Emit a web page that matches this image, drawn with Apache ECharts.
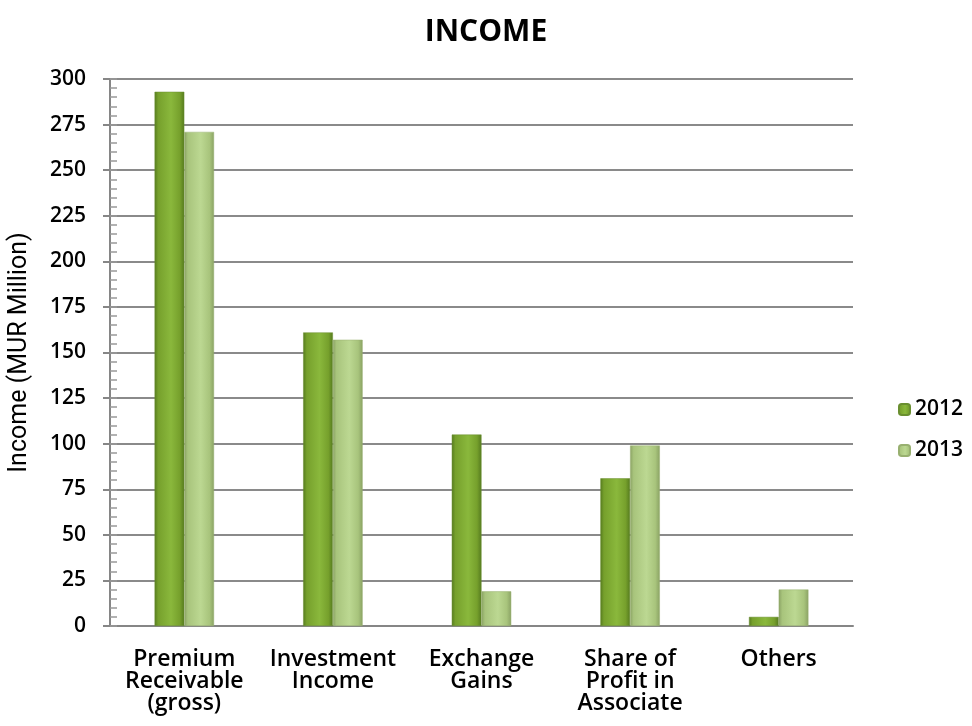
<!DOCTYPE html>
<html><head><meta charset="utf-8">
<script src="https://cdn.jsdelivr.net/npm/echarts@6/dist/echarts.min.js"></script>
<style>html,body{margin:0;padding:0;background:#fff}#c{width:972px;height:726px}</style>
</head><body><div id="c"></div>
<script>
const categories = ['Premium\nReceivable\n(gross)', 'Investment\nIncome', 'Exchange\nGains', 'Share of\nProfit in\nAssociate', 'Others'];
const series2012 = [293, 161, 105, 81, 5];
const series2013 = [271, 157, 19, 99, 20];
const seriesNames = ['2012', '2013'];
const yTicks = [0, 25, 50, 75, 100, 125, 150, 175, 200, 225, 250, 275, 300];

const FONT = '"Open Sans", "DejaVu Sans", sans-serif';
function grad(edge, mid, light){
  return new echarts.graphic.LinearGradient(0,0,1,0,[
    {offset:0,color:edge},{offset:0.12,color:mid},{offset:0.55,color:light},{offset:0.85,color:mid},{offset:1,color:edge}
  ]);
}
const chart = echarts.init(document.getElementById('c'), null, {renderer:'canvas'});
chart.setOption({
  animation:false,
  backgroundColor:'#fff',
  title:{text:'INCOME',left:'center',top:12,textStyle:{fontFamily:FONT,fontWeight:700,fontSize:30,color:'#000'}},
  legend:{orient:'vertical',left:893,top:394,itemWidth:11,itemHeight:11,itemGap:20,
    textStyle:{fontFamily:FONT,fontWeight:600,fontSize:21,color:'#000'},
    data:seriesNames},
  grid:{left:110,right:119,top:79,bottom:100,containLabel:false,outerBoundsMode:'none'},
  xAxis:{type:'category',data:categories,
    axisLine:{lineStyle:{color:'#868686',width:2}},axisTick:{show:false},
    axisLabel:{fontFamily:FONT,fontWeight:600,fontSize:23,color:'#000',lineHeight:22,margin:22,interval:0}},
  yAxis:[{type:'value',min:yTicks[0],max:yTicks[yTicks.length-1],interval:25,
    name:'Income (MUR Million)',nameLocation:'middle',nameGap:78,
    nameTextStyle:{fontFamily:'Roboto, sans-serif',fontSize:25,color:'#000'},
    axisLine:{show:true,lineStyle:{color:'#868686',width:2}},
    axisTick:{show:true,length:7,lineStyle:{color:'#868686',width:2}},
    splitLine:{lineStyle:{color:'#8a8a8a',width:2}},
    axisLabel:{fontFamily:FONT,fontWeight:600,fontSize:21,color:'#000',margin:24}},
   {type:'value',min:0,max:300,interval:5,position:'left',
    axisLine:{show:false},axisLabel:{show:false},splitLine:{show:false},
    axisTick:{show:true,inside:true,length:7,lineStyle:{color:'#999',width:1.5}}}],
  series:[
    {name:seriesNames[0],type:'bar',data:series2012,barGap:'0%',barCategoryGap:'60%',
     itemStyle:{color:grad('#557a1e','#76a02c','#8ab83c'),borderColor:'#6a8f30',borderWidth:0.5}},
    {name:seriesNames[1],type:'bar',data:series2013,
     itemStyle:{color:grad('#8aa264','#a8c47c','#bcd892'),borderColor:'#98b070',borderWidth:0.5}}
  ]
});
</script></body></html>
